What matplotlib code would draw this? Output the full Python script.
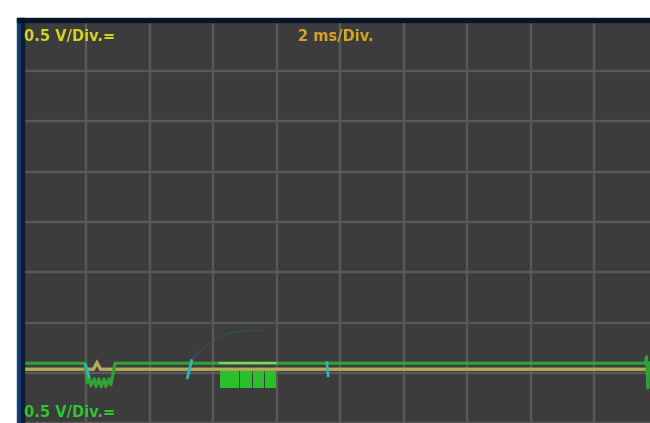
"""Oscilloscope capture: two channels, 0.5 V/div, 2 ms/div."""

import matplotlib

matplotlib.use("Agg")
import matplotlib.pyplot as plt
from matplotlib.patches import Rectangle

# time in ms, voltage in V (0 V = first grid line above the bottom)
yellow_t = [-0.2, 2.22, 2.33, 2.44, 19.8]
yellow_v = [0.035, 0.035, 0.10, 0.035, 0.035]

green_t = [-0.2, 1.95, 2.02, 2.08, 2.14, 2.24, 2.30, 2.39, 2.46, 2.55, 2.61,
           2.71, 2.77, 2.83, 2.90, 19.60, 19.64, 19.68, 19.72, 19.8]
green_v = [0.095, 0.095, -0.10, -0.05, -0.13, -0.06, -0.14, -0.06, -0.14,
           -0.06, -0.14, -0.06, -0.12, -0.02, 0.095, 0.095, 0.16, -0.15,
           0.10, 0.10]

# second burst: solid pulse blocks under the green baseline
burst_start = [6.20, 6.84, 7.24, 7.62]
burst_end = [6.80, 7.20, 7.58, 7.97]
burst_top = 0.02
burst_bottom = -0.15

# short cyan glitches (start/end time, start/end voltage)
cyan_t0 = [1.97, 5.31, 9.57]
cyan_t1 = [2.08, 5.18, 9.61]
cyan_v0 = [0.08, 0.12, 0.10]
cyan_v1 = [-0.04, -0.05, -0.03]

# faint window outline around the second burst
arc_t = [5.26, 5.60, 5.95, 6.20, 6.55, 7.05, 7.55]
arc_v = [0.12, 0.22, 0.31, 0.36, 0.40, 0.42, 0.42]

W, H = 650, 423
fig = plt.figure(figsize=(W / 100, H / 100), dpi=100)
fig.patch.set_facecolor("white")

ax = fig.add_axes([21 / W, 0, (W - 21) / W, (H - 21) / H])
ax.set_facecolor("#3c3c3c")
ax.set_xlim(-0.063, 19.75)
ax.set_ylim(3.5 - 401.5 / 101, 3.5)
ax.set_xticks([2 * i for i in range(10)])
ax.set_yticks([0.5 * i for i in range(-1, 8)])
ax.tick_params(length=0, labelbottom=False, labelleft=False)
ax.grid(True, color="#595959", linewidth=1.7)
ax.set_axisbelow(True)
for s in ax.spines.values():
    s.set_visible(False)

ax.plot(arc_t, arc_v, color="#2f5c5c", linewidth=1.0, alpha=0.6)

for a, b in zip(burst_start, burst_end):
    ax.fill_between([a, b], [burst_bottom] * 2, [burst_top] * 2,
                    color="#29c02c", linewidth=0)
ax.plot(yellow_t, yellow_v, color="#b7a95a", linewidth=2.4, solid_joinstyle="miter")
ax.plot(green_t, green_v, color="#2fa333", linewidth=2.2)
for a, b in zip(burst_start, burst_end):
    ax.plot([a, b], [0.095, 0.095], color="#7fd45a", linewidth=1.6)
for t0, t1, v0, v1 in zip(cyan_t0, cyan_t1, cyan_v0, cyan_v1):
    ax.plot([t0, t1], [v0, v1], color="#2ab8b8", linewidth=2.0)

# frame: blue left edge, navy top edge
fig.patches.append(Rectangle((17 / W, 0), 4 / W, (H - 18) / H,
                             transform=fig.transFigure, color="#173d70"))
fig.patches.append(Rectangle((21 / W, 0), 3 / W, (H - 18) / H,
                             transform=fig.transFigure, color="#0c1c36"))
fig.patches.append(Rectangle((17 / W, (H - 22) / H), (W - 17) / W, 4 / H,
                             transform=fig.transFigure, color="#08142a"))

font = dict(family="DejaVu Sans", fontweight="bold", fontsize=10.5, va="center")
fig.text(24 / W, 1 - 37 / H, "0.5 V/Div.=", color="#d6d21e", **font)
fig.text(298 / W, 1 - 36 / H, "2 ms/Div.", color="#d4a52a", **font)
fig.text(24 / W, 1 - 412 / H, "0.5 V/Div.=", color="#2fc72f", **font)

fig.savefig("out.png", dpi=100)
plt.close(fig)
